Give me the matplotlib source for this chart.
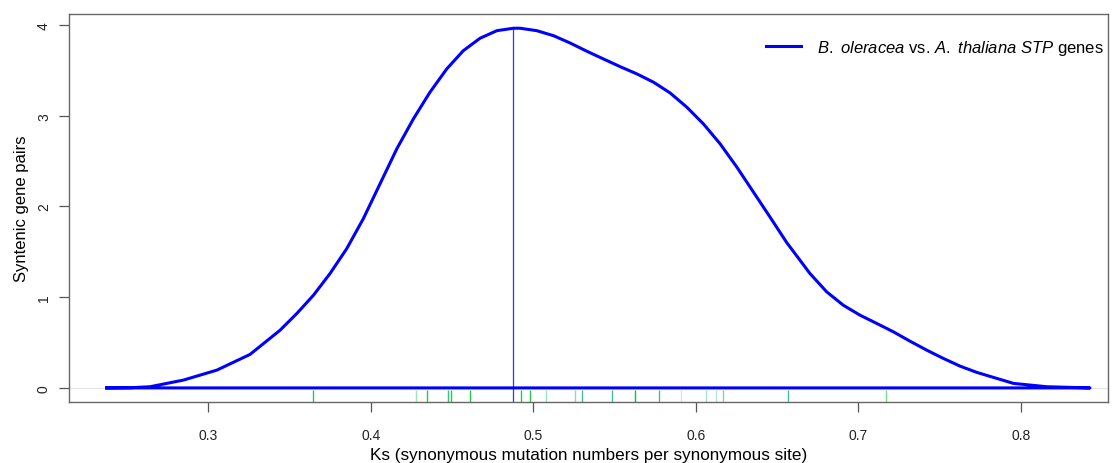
import matplotlib.pyplot as plt

plt.rcParams["font.family"] = ["Liberation Sans", "DejaVu Sans"]
plt.rcParams["mathtext.fontset"] = "custom"
plt.rcParams["mathtext.rm"] = "Liberation Sans"
plt.rcParams["mathtext.it"] = "Liberation Sans:italic"

# Density curve
KS_GRID = [
    0.2377, 0.2520, 0.2643, 0.2848, 0.3054, 0.3258, 0.3443, 0.3546, 0.3648,
    0.3750, 0.3853, 0.3955, 0.4058, 0.4161, 0.4263, 0.4365, 0.4468, 0.4570,
    0.4673, 0.4776, 0.4878, 0.4919, 0.5022, 0.5124, 0.5226, 0.5329, 0.5431,
    0.5534, 0.5637, 0.5739, 0.5841, 0.5944, 0.6046, 0.6149, 0.6252, 0.6354,
    0.6456, 0.6559, 0.6702, 0.6805, 0.6907, 0.7010, 0.7113, 0.7215, 0.7317,
    0.7420, 0.7522, 0.7625, 0.7728, 0.7830, 0.7953, 0.8158, 0.8424,
]
DENSITY = [
    0.000, 0.002, 0.013, 0.086, 0.196, 0.369, 0.636, 0.820, 1.021,
    1.260, 1.535, 1.865, 2.250, 2.635, 2.965, 3.259, 3.515, 3.716,
    3.853, 3.936, 3.963, 3.963, 3.936, 3.881, 3.801, 3.710, 3.625,
    3.540, 3.460, 3.369, 3.251, 3.094, 2.910, 2.690, 2.433, 2.158,
    1.883, 1.601, 1.260, 1.058, 0.911, 0.801, 0.710, 0.618, 0.515,
    0.416, 0.325, 0.240, 0.171, 0.116, 0.050, 0.013, 0.000,
]

# Peak position (vertical marker)
PEAK_KS = 0.4878
PEAK_DENSITY = 3.963

# Individual Ks values (rug)
KS_VALUES = [
    0.3648, 0.4281, 0.4347, 0.4476, 0.4492, 0.4609, 0.4927, 0.4983, 0.5079,
    0.5254, 0.5297, 0.5486, 0.5625, 0.5773, 0.5906, 0.6060, 0.6121, 0.6167,
    0.6567, 0.7169,
]
RUG_COLORS = [
    "#22cc44", "#99e6b8", "#22cc44", "#33c488", "#22cc44", "#22cc44", "#22cc44",
    "#22cc44", "#99e6b8", "#8fd9c4", "#44bba0", "#44bba0", "#00cc22", "#44bba0",
    "#c8f0d0", "#a8e0d0", "#b8e8d0", "#77dd99", "#44bba0", "#77dd88",
]

LEGEND_LABEL = (r"$\mathit{B.}$ $\mathit{oleracea}$ vs. "
                r"$\mathit{A.}$ $\mathit{thaliana}$ $\mathit{STP}$ genes")

fig = plt.figure(figsize=(11.19, 4.64), dpi=100)
ax = fig.add_axes([0.0617, 0.1315, 0.9285, 0.8362])

ax.axhline(0, color="#e4e4e4", linewidth=0.8, zorder=1)
ax.plot(KS_GRID + [KS_GRID[0]], DENSITY + [DENSITY[0]], color="#0000ff",
        linewidth=2.2, label=LEGEND_LABEL, zorder=3, solid_joinstyle="round")
ax.vlines(PEAK_KS, -0.2, PEAK_DENSITY, color="#3333ff", linewidth=0.9, zorder=2)
ax.vlines(KS_VALUES, 0, 0.031, colors=RUG_COLORS, linewidth=1.0,
          transform=ax.get_xaxis_transform(), zorder=2)

ax.set_xlim(0.2145, 0.8535)
ax.set_ylim(-0.155, 4.12)
ax.set_xticks([0.3, 0.4, 0.5, 0.6, 0.7, 0.8])
ax.set_yticks([0, 1, 2, 3, 4])
ax.set_yticklabels(["0", "1", "2", "3", "4"], rotation=90, va="center")
ax.tick_params(axis="both", length=7, width=0.9, color="#555555", labelsize=10,
               labelcolor="#222222", pad=6)
ax.tick_params(axis="x", pad=12)
for spine in ax.spines.values():
    spine.set_color("#666666")
    spine.set_linewidth(1.0)

ax.set_xlabel("Ks (synonymous mutation numbers per synonymous site)",
              fontsize=12.3, labelpad=3)
ax.set_ylabel("Syntenic gene pairs", fontsize=12, labelpad=6)

ax.legend(loc="upper right", frameon=False, fontsize=12, handlelength=2.1,
          handletextpad=1.0, bbox_to_anchor=(1.006, 0.965), borderaxespad=0.2)

fig.savefig("out.png", dpi=100)
